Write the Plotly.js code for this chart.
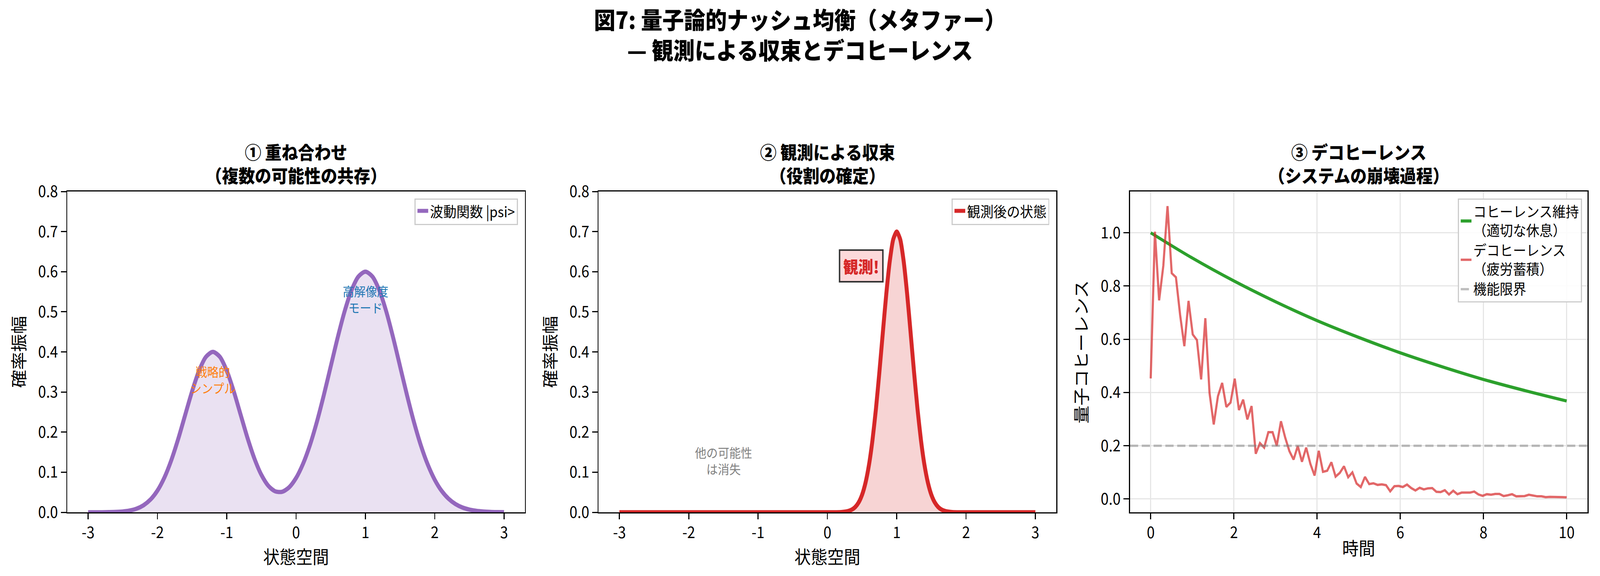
<!DOCTYPE html>
<html>
<head>
<meta charset="utf-8">
<script src="https://cdn.plot.ly/plotly-3.0.1.min.js"></script>
<style>html,body{margin:0;padding:0;background:#fff;overflow:hidden;}</style>
</head>
<body>
<div id="chart"></div>
<script>
// ---------- Data ----------
// Panel 1: superposition wave function
const stateX1 = [-3.0,-2.9,-2.8,-2.7,-2.6,-2.5,-2.4,-2.3,-2.2,-2.1,-2.0,-1.9,-1.8,-1.7,-1.6,-1.5,-1.4,-1.3,-1.2,-1.1,-1.0,-0.9,-0.8,-0.7,-0.6,-0.5,-0.4,-0.3,-0.2,-0.1,0.0,0.1,0.2,0.3,0.4,0.5,0.6,0.7,0.8,0.9,1.0,1.1,1.2,1.3,1.4,1.5,1.6,1.7,1.8,1.9,2.0,2.1,2.2,2.3,2.4,2.5,2.6,2.7,2.8,2.9,3.0];
const psiSuperposition = [0.0000,0.0000,0.0001,0.0004,0.0009,0.0020,0.0044,0.0091,0.0176,0.0318,0.0541,0.0865,0.1299,0.1831,0.2426,0.3019,0.3530,0.3877,0.4000,0.3878,0.3532,0.3023,0.2435,0.1850,0.1335,0.0932,0.0660,0.0522,0.0513,0.0624,0.0856,0.1208,0.1677,0.2256,0.2922,0.3640,0.4357,0.5012,0.5539,0.5881,0.6000,0.5881,0.5539,0.5012,0.4357,0.3639,0.2921,0.2252,0.1668,0.1188,0.0812,0.0533,0.0337,0.0204,0.0119,0.0067,0.0036,0.0019,0.0009,0.0004,0.0002];

// Panel 2: collapsed state after observation
const stateX2 = [-3.0,-2.0,-1.0,0.0,0.1,0.2,0.25,0.3,0.35,0.4,0.45,0.5,0.55,0.6,0.65,0.7,0.75,0.8,0.85,0.9,0.95,1.0,1.05,1.1,1.15,1.2,1.25,1.3,1.35,1.4,1.45,1.5,1.55,1.6,1.65,1.7,1.75,1.8,1.9,2.0,3.0];
const psiCollapsed = [0,0,0,0,0.0001,0.0006,0.0014,0.0030,0.0064,0.0128,0.0243,0.0435,0.0738,0.1183,0.1795,0.2575,0.3496,0.4488,0.5452,0.6264,0.6808,0.7000,0.6808,0.6264,0.5452,0.4488,0.3496,0.2575,0.1795,0.1183,0.0738,0.0435,0.0243,0.0128,0.0064,0.0030,0.0014,0.0006,0.0001,0,0];

// Panel 3: coherence over time
const coherenceTime = [0,1,2,3,4,5,6,7,8,9,10];
const coherenceKept = [1.000,0.905,0.819,0.741,0.670,0.607,0.549,0.497,0.449,0.407,0.368];
const decoherenceValues = [0.453,1.004,0.746,0.876,1.100,0.848,0.833,0.691,0.574,0.744,
  0.618,0.597,0.449,0.679,0.398,0.280,0.386,0.436,0.346,0.362,
  0.452,0.334,0.373,0.299,0.349,0.170,0.210,0.193,0.251,0.251,
  0.200,0.292,0.231,0.180,0.148,0.199,0.140,0.193,0.132,0.088,
  0.181,0.102,0.106,0.138,0.084,0.098,0.123,0.082,0.100,0.058,
  0.045,0.083,0.056,0.059,0.053,0.055,0.052,0.029,0.048,0.049,
  0.045,0.054,0.041,0.032,0.042,0.036,0.040,0.041,0.027,0.026,
  0.033,0.017,0.031,0.018,0.024,0.024,0.024,0.028,0.017,0.012,
  0.018,0.016,0.019,0.019,0.011,0.014,0.018,0.010,0.011,0.011,
  0.016,0.013,0.010,0.010,0.007,0.008,0.008,0.009,0.007,0.006];
const decoherenceTimeEnd = 10;
const decoherenceTime = decoherenceValues.map((_, i) => i * decoherenceTimeEnd / (decoherenceValues.length - 1));
const functionLimit = 0.2;
const timeAxisRange = [-0.5, 10.5];

// Tick labels
const stateTickVals = [-3,-2,-1,0,1,2,3];
const stateTickText = ['-3','-2','-1','0','1','2','3'];
const timeTickVals = [0,2,4,6,8,10];

// Text
const suptitleLines = ['図7: 量子論的ナッシュ均衡（メタファー）', '— 観測による収束とデコヒーレンス'];
const panelTitles = [
  ['① 重ね合わせ', '（複数の可能性の共存）'],
  ['② 観測による収束', '（役割の確定）'],
  ['③ デコヒーレンス', '（システムの崩壊過程）']
];

// ---------- Layout geometry: built at reference size, scaled to the window ----------
const RW = 4469, RH = 1474;
const VW = window.innerWidth || RW;
const VH = window.innerHeight || RH;
const chartDiv = document.getElementById('chart');
chartDiv.style.width = RW + 'px';
chartDiv.style.height = RH + 'px';
chartDiv.style.transformOrigin = '0 0';
chartDiv.style.transform = 'scale(' + (VW / RW) + ',' + (VH / RH) + ')';

const dom1 = [188/RW, 1466/RW], dom2 = [1672/RW, 2950/RW], dom3 = [3156/RW, 4434/RW];
const ydom = [(RH-1311)/RH, (RH-490)/RH];
const FONT = '"Noto Sans CJK JP", "Noto Sans", sans-serif';

function baseAxis(extra) {
  return Object.assign({
    showline: true, linecolor: '#000', linewidth: 3, mirror: true,
    ticks: 'outside', ticklen: 15, tickwidth: 3, tickcolor: '#000',
    tickfont: {size: 40, color: '#000', family: FONT},
    zeroline: false, showgrid: false, automargin: false
  }, extra);
}
function axTitle(text, standoff) {
  return {text: text, font: {size: 46, family: FONT, color: '#000'}, standoff: standoff};
}

const traces = [
  {x: stateX1, y: psiSuperposition, type: 'scatter', mode: 'lines',
   line: {color: '#9467bd', width: 11, shape: 'spline', smoothing: 0.8},
   fill: 'tozeroy', fillcolor: 'rgba(148,103,189,0.2)',
   name: '波動関数 |psi>', xaxis: 'x', yaxis: 'y', legend: 'legend'},
  {x: stateX2, y: psiCollapsed, type: 'scatter', mode: 'lines',
   line: {color: '#d62728', width: 11, shape: 'spline', smoothing: 0.6},
   fill: 'tozeroy', fillcolor: 'rgba(214,39,40,0.2)',
   name: '観測後の状態', xaxis: 'x2', yaxis: 'y2', legend: 'legend2'},
  {x: coherenceTime, y: coherenceKept, type: 'scatter', mode: 'lines',
   line: {color: '#2ca02c', width: 8, shape: 'spline'},
   name: 'コヒーレンス維持<br>（適切な休息）', xaxis: 'x3', yaxis: 'y3', legend: 'legend3'},
  {x: decoherenceTime, y: decoherenceValues, type: 'scatter', mode: 'lines',
   line: {color: 'rgba(214,39,40,0.7)', width: 6},
   name: 'デコヒーレンス<br>（疲労蓄積）', xaxis: 'x3', yaxis: 'y3', legend: 'legend3'},
  {x: timeAxisRange, y: [functionLimit, functionLimit], type: 'scatter', mode: 'lines',
   line: {color: 'rgba(128,128,128,0.5)', width: 6, dash: '23px,10px'},
   name: '機能限界', xaxis: 'x3', yaxis: 'y3', legend: 'legend3'}
];

const legendBase = {
  font: {size: 37, color: '#000', family: FONT},
  bgcolor: 'rgba(255,255,255,0.85)', bordercolor: '#cccccc', borderwidth: 3,
  xanchor: 'right', yanchor: 'top', xref: 'paper', yref: 'paper'
};

const annotations = [];
panelTitles.forEach((t, i) => {
  const d = [dom1, dom2, dom3][i];
  annotations.push({
    text: t[0] + '<br>' + t[1],
    xref: 'paper', yref: 'paper', x: (d[0] + d[1]) / 2, y: (RH - 417) / RH,
    xanchor: 'center', yanchor: 'middle', showarrow: false,
    font: {size: 46, color: '#000', family: FONT, weight: 900}
  });
});
annotations.push(
  {text: '戦略的<br>シンプル', xref: 'x', yref: 'y', x: -1.2, y: 0.331, showarrow: false,
   xanchor: 'center', yanchor: 'middle', font: {size: 32, color: '#ff7f0e', family: FONT}},
  {text: '高解像度<br>モード', xref: 'x', yref: 'y', x: 1.0, y: 0.532, showarrow: false,
   xanchor: 'center', yanchor: 'middle', font: {size: 32, color: '#1f77b4', family: FONT}},
  {text: '他の可能性<br>は消失', xref: 'x2', yref: 'y2', x: -1.5, y: 0.13, showarrow: false,
   xanchor: 'center', yanchor: 'middle', font: {size: 32, color: '#808080', family: FONT}},
  {text: '観測!', xref: 'x2', yref: 'y2', x: 0.49, y: 0.614, showarrow: false,
   xanchor: 'center', yanchor: 'middle', font: {size: 42, color: '#d62728', family: FONT, weight: 900},
   bgcolor: '#fcd9da', bordercolor: '#333333', borderwidth: 4, borderpad: 8}
);

const layout = {
  width: RW, height: RH,
  margin: {l: 0, r: 0, t: 0, b: 0},
  paper_bgcolor: '#ffffff', plot_bgcolor: '#ffffff',
  font: {family: FONT, color: '#000'},
  title: {
    text: suptitleLines[0] + '<br>' + suptitleLines[1],
    x: 0.5, xanchor: 'center', xref: 'paper', y: 1 - 74 / RH, yanchor: 'middle', yref: 'container',
    font: {size: 60, color: '#000', family: FONT, weight: 900}
  },
  xaxis: baseAxis({domain: dom1, anchor: 'y', range: [-3.3, 3.3], tickvals: stateTickVals, ticktext: stateTickText,
    title: axTitle('状態空間', 0)}),
  yaxis: baseAxis({domain: ydom, anchor: 'x', range: [0, 0.8], dtick: 0.1, tickformat: '.1f',
    title: axTitle('確率振幅', 22)}),
  xaxis2: baseAxis({domain: dom2, anchor: 'y2', range: [-3.3, 3.3], tickvals: stateTickVals, ticktext: stateTickText,
    title: axTitle('状態空間', 0)}),
  yaxis2: baseAxis({domain: ydom, anchor: 'x2', range: [0, 0.8], dtick: 0.1, tickformat: '.1f',
    title: axTitle('確率振幅', 22)}),
  xaxis3: baseAxis({domain: dom3, anchor: 'y3', range: timeAxisRange, tickvals: timeTickVals,
    showgrid: true, gridcolor: '#e6e6e6', gridwidth: 3,
    title: axTitle('時間', 0)}),
  yaxis3: baseAxis({domain: ydom, anchor: 'x3', range: [-0.05, 1.155], dtick: 0.2, tickformat: '.1f',
    showgrid: true, gridcolor: '#e6e6e6', gridwidth: 3,
    title: axTitle('量子コヒーレンス', 22)}),
  legend: Object.assign({}, legendBase, {x: 1447 / RW, y: (RH - 508) / RH}),
  legend2: Object.assign({}, legendBase, {x: 2931 / RW, y: (RH - 508) / RH}),
  legend3: Object.assign({}, legendBase, {x: 4419 / RW, y: (RH - 508) / RH, tracegroupgap: 8}),
  showlegend: true,
  annotations: annotations
};

Plotly.newPlot('chart', traces, layout, {displayModeBar: false, staticPlot: true});
</script>
</body>
</html>
